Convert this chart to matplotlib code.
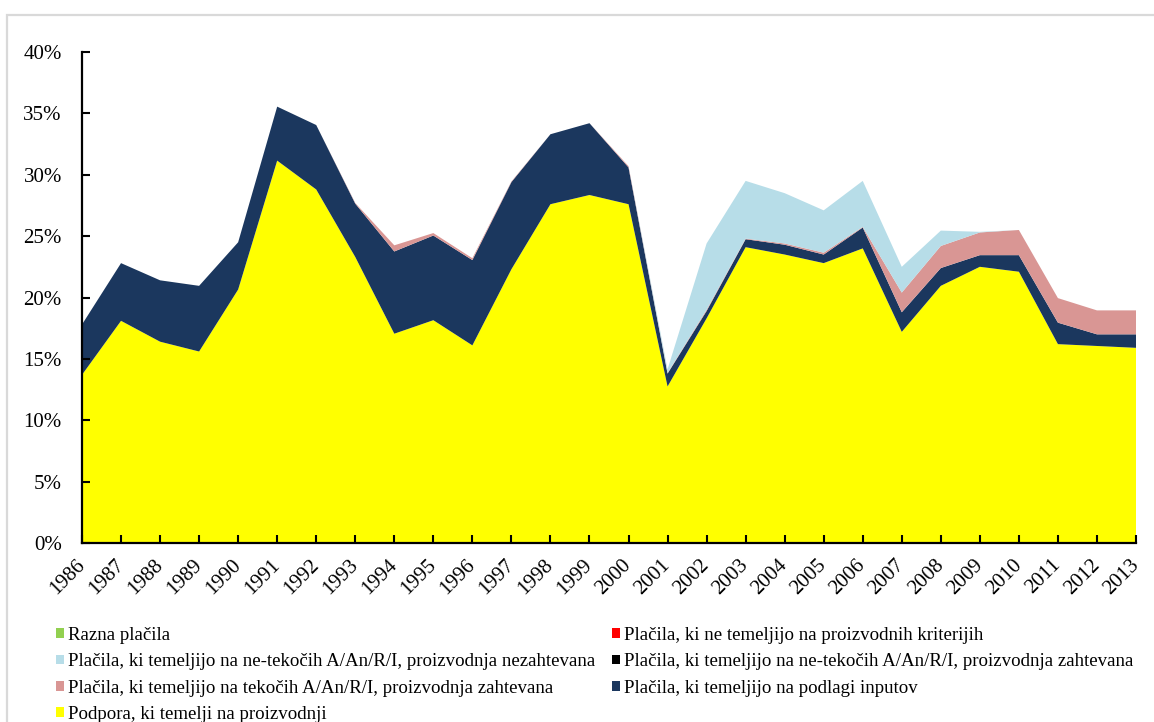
import numpy as np
import matplotlib.pyplot as plt
from matplotlib.patches import Patch, Rectangle

plt.rcParams['font.family'] = ['Liberation Serif', 'DejaVu Serif']

years = list(range(1986, 2014))

# shares in %, bottom to top of the stack
podpora = [13.7, 18.1, 16.4, 15.6, 20.65, 31.15, 28.8, 23.3, 17.05, 18.15,
           16.1, 22.3, 27.6, 28.35, 27.6, 12.75, 18.3, 24.1, 23.5, 22.8,
           24.0, 17.2, 20.95, 22.5, 22.1, 16.2, 16.05, 15.9]
inputi = [4.1, 4.7, 5.0, 5.35, 3.85, 4.4, 5.25, 4.35, 6.7, 6.9,
          6.95, 7.1, 5.7, 5.85, 3.0, 1.05, 0.6, 0.65, 0.8, 0.7,
          1.7, 1.6, 1.45, 0.95, 1.35, 1.75, 0.95, 1.1]
tekoci_zaht = [0, 0, 0, 0, 0, 0, 0, 0.05, 0.5, 0.2,
               0.15, 0.05, 0, 0, 0.1, 0.05, 0.1, 0.05, 0.1, 0.15,
               0.05, 1.6, 1.8, 1.85, 2.05, 2.0, 1.95, 1.95]
netekoci_zaht = [0] * 28
netekoci_nezaht = [0, 0, 0, 0, 0, 0, 0, 0, 0, 0,
                   0, 0, 0, 0, 0, 0.3, 5.4, 4.7, 4.1, 3.45,
                   3.75, 2.1, 1.25, 0.05, 0, 0, 0, 0]
ne_proizv = [0] * 28
razna = [0] * 28

labels = ["Podpora, ki temelji na proizvodnji",
          "Plačila, ki temeljijo na podlagi inputov",
          "Plačila, ki temeljijo na tekočih A/An/R/I, proizvodnja zahtevana",
          "Plačila, ki temeljijo na ne-tekočih A/An/R/I, proizvodnja zahtevana",
          "Plačila, ki temeljijo na ne-tekočih A/An/R/I, proizvodnja nezahtevana",
          "Plačila, ki ne temeljijo na proizvodnih kriterijih",
          "Razna plačila"]
colours = ["#FFFF00", "#1B375E", "#D99694", "#000000", "#B7DDE8", "#FF0000", "#92D050"]

W, H = 1154, 722
fig = plt.figure(figsize=(W / 100, H / 100), dpi=100)
ax = fig.add_axes([82 / W, 1 - 543 / H, (1136 - 82) / W, (543 - 52) / H])

series = [podpora, inputi, tekoci_zaht, netekoci_zaht, netekoci_nezaht, ne_proizv, razna]
ax.stackplot(years, *series, colors=colours, linewidth=0)

ax.set_xlim(years[0], years[-1])
ax.set_ylim(0, 40)
ax.set_yticks(np.arange(0, 41, 5))
ax.set_yticklabels([f"{v}%" for v in range(0, 41, 5)], fontsize=15)
ax.set_xticks(years)
ax.set_xticklabels([str(y) for y in years], rotation=45, ha="right", va="center",
                   rotation_mode="anchor", fontsize=15)
ax.tick_params(axis="both", direction="in", length=6, width=1.5)
ax.tick_params(axis="y", pad=14.5)
ax.tick_params(axis="x", pad=14)
for s in ["top", "right"]:
    ax.spines[s].set_visible(False)
for s in ["left", "bottom"]:
    ax.spines[s].set_linewidth(1.6)
ax.set_zorder(2)

# grey outer frame (only top and left edges visible)
fig.add_artist(Rectangle((7 / W, -0.1), 1.2, 1 - 15 / H + 0.1, transform=fig.transFigure,
                         fill=False, edgecolor="#D9D9D9", linewidth=1.6, zorder=0))

h = [Patch(facecolor=c, edgecolor="none") for c in colours]
order_left = [6, 4, 2, 0]
order_right = [5, 3, 1]
kw = dict(loc="upper left", frameon=False, fontsize=13.6, handlelength=0.43,
          handleheight=0.43, handletextpad=0.2, labelspacing=0.49,
          borderpad=0, borderaxespad=0)
fig.legend([h[i] for i in order_left], [labels[i] for i in order_left],
           bbox_to_anchor=(56 / W, 1 - 627 / H), **kw)
fig.legend([h[i] for i in order_right], [labels[i] for i in order_right],
           bbox_to_anchor=(612 / W, 1 - 627 / H), **kw)

fig.savefig("out.png", dpi=100)
